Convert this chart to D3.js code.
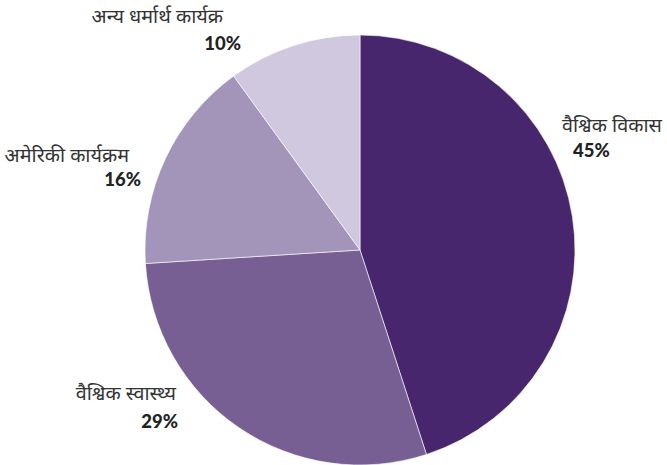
<!DOCTYPE html>
<html><head><meta charset="utf-8">
<script src="https://cdn.jsdelivr.net/npm/d3@7"></script>
<style>body{margin:0;background:#fff}svg{display:block}</style>
</head><body>
<svg id="c" width="667" height="465"></svg>
<script>
const categories = ["वैश्विक विकास", "वैश्विक स्वास्थ्य", "अमेरिकी कार्यक्रम", "अन्य धर्मार्थ कार्यक्र"];
const values = [45, 29, 16, 10];
const pctLabels = ["45%", "29%", "16%", "10%"];
const colors = ["#48266e", "#775f93", "#a394b9", "#d0c8de"];

const svg = d3.select("#c");
const cx = 360, cy = 250, r = 215;
const g = svg.append("g").attr("transform", `translate(${cx},${cy})`);
const pie = d3.pie().sort(null).value(d => d)(values);
const arc = d3.arc().innerRadius(0).outerRadius(r);
g.selectAll("path").data(pie).join("path")
  .attr("d", arc).attr("fill", (d,i) => colors[i])
  .attr("stroke", "#fff").attr("stroke-width", 0.6);

const labelPos = [
  {nx: 562, ny: 132, px: 573, py: 157, anchor: "start", panchor: "start"},
  {nx: 176, ny: 400, px: 178, py: 428, anchor: "end", panchor: "end"},
  {nx: 129, ny: 162, px: 141, py: 186, anchor: "end", panchor: "end"},
  {nx: 223, ny: 23, px: 241, py: 50, anchor: "end", panchor: "end"}
];
const font = "'Noto Sans Devanagari','Noto Sans','Lato',sans-serif";
const lg = svg.append("g");
categories.forEach((c, i) => {
  const p = labelPos[i];
  lg.append("text").attr("x", p.nx).attr("y", p.ny).attr("text-anchor", p.anchor)
    .attr("font-family", font).attr("font-size", 19.8).attr("fill", "#333").text(c);
  lg.append("text").attr("x", p.px).attr("y", p.py).attr("text-anchor", p.panchor)
    .attr("font-family", "Lato, 'Open Sans', sans-serif").attr("font-weight", 900)
    .attr("font-size", 18.5).attr("fill", "#222").text(pctLabels[i]);
});
</script>
</body></html>
